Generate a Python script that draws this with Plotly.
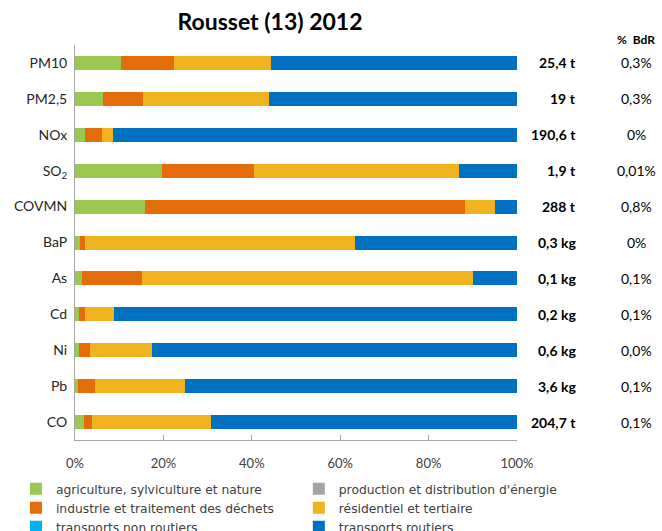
import plotly.graph_objects as go

categories = ["PM10", "PM2,5", "NOx", "SO<sub>2</sub>", "COVMN", "BaP", "As", "Cd", "Ni", "Pb", "CO"]
agriculture = [10.4, 6.3, 2.3, 19.6, 15.9, 1.2, 1.5, 0.9, 1.0, 0.6, 2.0]
production = [0, 0, 0, 0, 0, 0, 0, 0, 0, 0, 0]
industrie = [12.0, 9.0, 3.8, 21.0, 72.3, 1.1, 13.6, 1.4, 2.4, 3.9, 1.9]
residentiel = [21.9, 28.6, 2.4, 46.3, 6.8, 61.0, 75.0, 6.5, 14.1, 20.4, 26.9]
transports_non_routiers = [0, 0, 0, 0, 0, 0, 0, 0, 0, 0, 0]
transports_routiers = [55.7, 56.1, 91.5, 13.1, 5.0, 36.7, 9.9, 91.2, 82.5, 75.1, 69.2]
totals = ["25,4 t", "19 t", "190,6 t", "1,9 t", "288 t", "0,3 kg", "0,1 kg", "0,2 kg", "0,6 kg", "3,6 kg", "204,7 t"]
pct_bdr = ["0,3%", "0,3%", "0%", "0,01%", "0,8%", "0%", "0,1%", "0,1%", "0,0%", "0,1%", "0,1%"]
xticks = [0, 20, 40, 60, 80, 100]
xticklabels = ["0%", "20%", "40%", "60%", "80%", "100%"]

# (name, values, colour, legend column)
series = [
    ("agriculture, sylviculture et nature", agriculture, "#9BC850", "legend"),
    ("production et distribution d'énergie", production, "#A5A5A5", "legend2"),
    ("industrie et traitement des déchets", industrie, "#E46C0A", "legend"),
    ("résidentiel et tertiaire", residentiel, "#F0B21E", "legend2"),
    ("transports non routiers", transports_non_routiers, "#00B0F0", "legend"),
    ("transports routiers", transports_routiers, "#0070C0", "legend2"),
]

FONT = "Lato"
fig = go.Figure()
for name, vals, col, lg in series:
    fig.add_trace(go.Bar(
        y=categories, x=vals, name=name, orientation="h", legend=lg,
        marker=dict(color=col, line=dict(width=0)),
    ))

legend_common = dict(orientation="v", yanchor="top", traceorder="normal",
                     font=dict(family="DejaVu Sans", size=12.3, color="#404040"),
                     itemwidth=30, indentation=-10, tracegroupgap=0,
                     bgcolor="rgba(0,0,0,0)")
fig.update_layout(
    width=662, height=531,
    barmode="stack", bargap=0.61,
    paper_bgcolor="white", plot_bgcolor="white",
    margin=dict(l=75, r=145, t=45, b=91, autoexpand=False),
    font=dict(family=FONT, size=13, color="#404040"),
    title=dict(text="<b>Rousset (13) 2012</b>", x=270 / 662, xanchor="center",
               y=1 - 22 / 531, yanchor="middle",
               font=dict(family=FONT, size=23, color="#000000")),
    showlegend=True,
    legend=dict(x=-0.111, xanchor="left", y=-0.087, **legend_common),
    legend2=dict(x=0.529, xanchor="left", y=-0.087, **legend_common),
)
fig.update_xaxes(range=[0, 100], tickvals=xticks, ticktext=xticklabels,
                 showgrid=False, zeroline=False, showline=True, linecolor="#A6A6A6",
                 linewidth=1, ticks="inside", ticklen=5, tickcolor="#A6A6A6",
                 ticklabelstandoff=11,
                 tickfont=dict(family=FONT, size=13, color="#404040"))
fig.update_yaxes(autorange="reversed", showgrid=False, showline=True, linecolor="#A6A6A6",
                 linewidth=1, ticks="", ticklabelstandoff=4,
                 tickfont=dict(family=FONT, size=14, color="#262626"))

for cat, t, p in zip(categories, totals, pct_bdr):
    fig.add_annotation(x=(578 - 75) / 442, xref="paper", y=cat, yref="y", text="<b>" + t + "</b>",
                       showarrow=False, xanchor="right", yanchor="middle",
                       font=dict(family=FONT, size=14, color="#000000"))
    fig.add_annotation(x=(636 - 75) / 442, xref="paper", y=cat, yref="y", text=p,
                       showarrow=False, xanchor="center", yanchor="middle",
                       font=dict(family=FONT, size=14, color="#000000"))
fig.add_annotation(x=(636 - 75) / 442, xref="paper", y=1 + 5 / 395, yref="paper", text="<b>%  BdR</b>",
                   showarrow=False, xanchor="center", yanchor="middle",
                   font=dict(family=FONT, size=12, color="#000000"))

fig.write_html("out.html", post_script="document.body.style.margin='0';",
               config={"displayModeBar": False})
